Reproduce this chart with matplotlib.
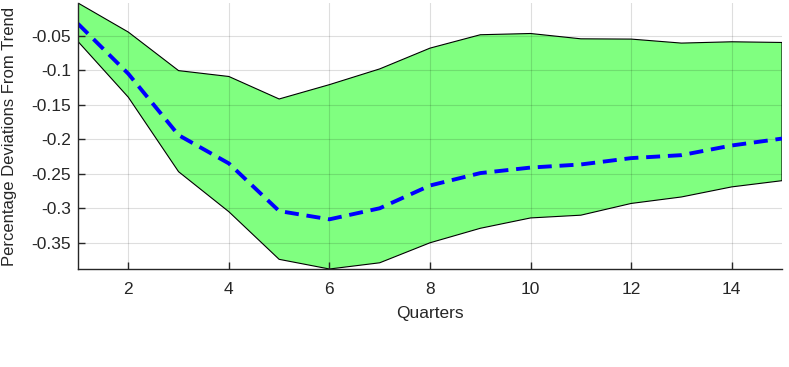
import matplotlib
matplotlib.use("Agg")
import matplotlib.pyplot as plt
import numpy as np

plt.rcParams['font.family'] = ['Liberation Sans', 'DejaVu Sans']

quarters = np.arange(1, 16)
upper = [-0.0025, -0.0446, -0.1005, -0.109, -0.1416, -0.1208, -0.098, -0.0679,
         -0.0485, -0.0467, -0.0544, -0.0548, -0.0606, -0.0587, -0.0597]
lower = [-0.0583, -0.139, -0.247, -0.305, -0.374, -0.388, -0.379, -0.350,
         -0.329, -0.314, -0.310, -0.293, -0.2836, -0.269, -0.260]
median = [-0.0326, -0.105, -0.194, -0.235, -0.304, -0.316, -0.300, -0.267,
          -0.249, -0.241, -0.2365, -0.2273, -0.223, -0.209, -0.199]

xticks = [2, 4, 6, 8, 10, 12, 14]
yticks = [-0.35, -0.3, -0.25, -0.2, -0.15, -0.1, -0.05]
ytick_labels = ['-0.35', '-0.3', '-0.25', '-0.2', '-0.15', '-0.1', '-0.05']

fig = plt.figure(figsize=(7.89, 3.67), dpi=100)
ax = fig.add_axes([78 / 789, 1 - 269 / 367, 704 / 789, 266 / 367])

band_x = np.concatenate([quarters, quarters[::-1]])
band_y = np.concatenate([upper, lower[::-1]])
ax.fill(band_x, band_y, facecolor='#80ff80', edgecolor='black', linewidth=0.8, zorder=1)
ax.plot(quarters, median, color='#0000ff', linestyle=(0, (3.6, 2.0)), linewidth=2.8, zorder=3)

ax.set_xlim(1, 15)
ax.set_ylim(min(lower), max(upper))
ax.set_xticks(xticks)
ax.set_yticks(yticks)
ax.set_yticklabels(ytick_labels)
ax.grid(True, color='#000000', alpha=0.13, linewidth=0.8, zorder=2)
ax.set_axisbelow(False)

for side in ['top', 'right']:
    ax.spines[side].set_visible(False)
for side in ['left', 'bottom']:
    ax.spines[side].set_color('#262626')
    ax.spines[side].set_linewidth(1.0)
    ax.spines[side].set_zorder(4)

ax.tick_params(direction='in', length=5, width=1.0, colors='#262626', labelsize=12.5)
ax.tick_params(axis='x', pad=9)
ax.tick_params(axis='y', pad=5)
ax.set_xlabel('Quarters', fontsize=12.5, color='#262626', labelpad=7)
ax.set_ylabel('Percentage Deviations From Trend', fontsize=12, color='#262626')
ax.yaxis.set_label_coords(-0.087, 0.5)

fig.savefig('out.png', dpi=100)
